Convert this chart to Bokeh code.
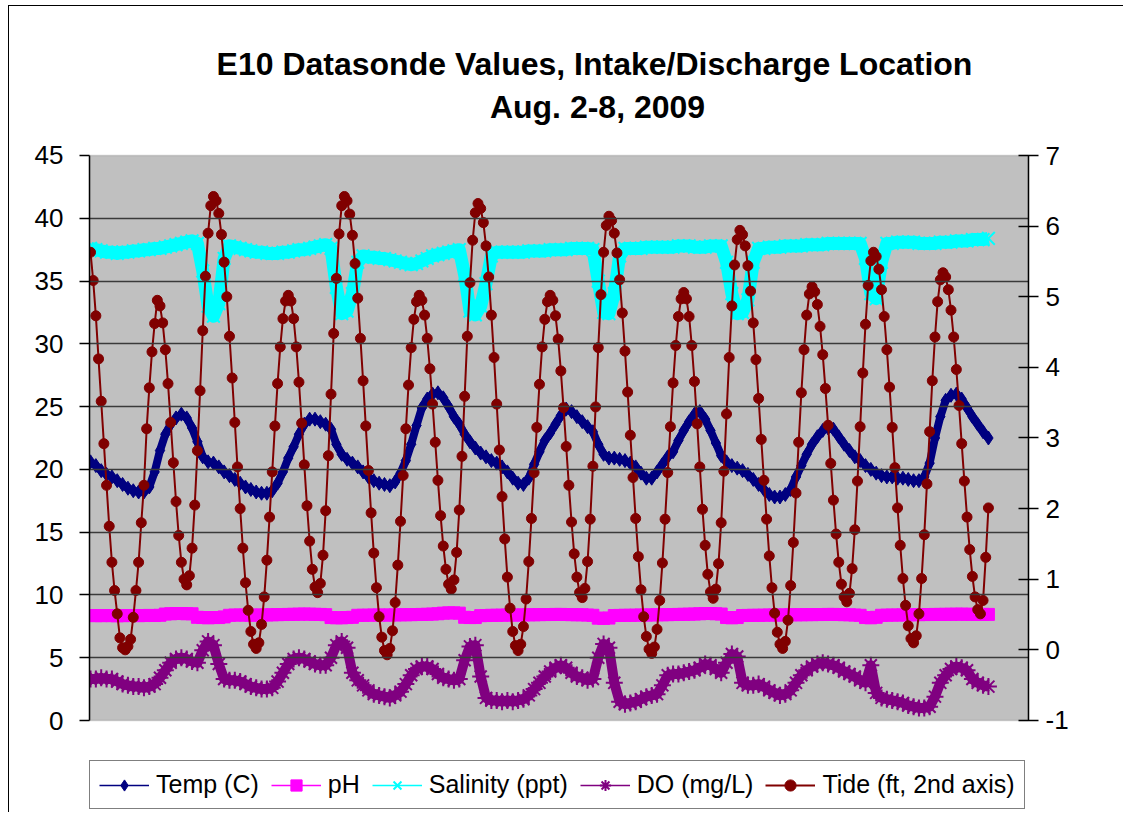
from bokeh.plotting import figure
from bokeh.models import Range1d, LinearAxis, FixedTicker, Legend, LegendItem, Label, BoxAnnotation
from bokeh.embed import file_html
from bokeh.resources import INLINE

# ---- data (hourly for sonde parameters, half-hourly for tide) ----
temp = [20.6, 20.3, 19.9, 19.6, 19.4, 19.1, 18.8, 18.5, 18.3, 18.2,
        18.2, 18.6, 19.8, 21.5, 22.8, 23.6, 24.1, 24.4, 24.1, 23.3,
        22.2, 21.0, 20.6, 20.5, 20.2, 19.8, 19.5, 19.2, 18.9, 18.6,
        18.4, 18.2, 18.1, 18.1, 18.3, 18.9, 19.8, 20.9, 21.8, 22.8,
        23.6, 24.0, 24.0, 23.8, 23.6, 23.2, 22.0, 21.2, 20.8, 20.5,
        20.2, 19.8, 19.4, 19.1, 18.9, 18.8, 18.7, 19.0, 19.7, 20.7,
        22.0, 23.5, 24.9, 25.6, 26.0, 26.1, 25.7, 25.0, 24.2, 23.6,
        22.8, 22.2, 21.7, 21.3, 21.0, 20.7, 20.5, 20.2, 19.8, 19.3,
        18.9, 18.8, 19.3, 20.4, 21.4, 22.3, 22.9, 23.6, 24.3, 24.8,
        24.6, 24.2, 23.8, 23.4, 23.0, 22.0, 21.2, 20.9, 20.9, 20.8,
        20.7, 20.5, 20.2, 19.7, 19.3, 19.3, 19.8, 20.4, 21.0, 21.4,
        22.3, 23.1, 23.8, 24.4, 24.6, 24.0, 23.1, 22.1, 21.1, 20.6,
        20.3, 20.1, 19.9, 19.6, 19.2, 18.8, 18.4, 18.0, 17.8, 17.8,
        18.0, 18.4, 19.4, 20.3, 21.2, 22.0, 22.6, 23.1, 23.3, 23.2,
        22.6, 22.0, 21.5, 21.0, 20.7, 20.3, 20.0, 19.7, 19.5, 19.4,
        19.4, 19.3, 19.3, 19.2, 19.1, 19.1, 19.4, 20.5, 22.5, 24.2,
        25.5, 25.9, 26.0, 25.6, 24.9, 24.2, 23.6, 23.0, 22.5]

ph = [8.36, 8.35, 8.35, 8.36, 8.35, 8.34, 8.35, 8.36, 8.36, 8.35, 8.36, 8.37, 8.36, 8.38,
      8.48, 8.5, 8.52, 8.52, 8.5, 8.5,
      8.22, 8.2, 8.18, 8.2, 8.2, 8.25,
      8.38, 8.4, 8.4, 8.4, 8.39, 8.4, 8.4, 8.41, 8.42, 8.43, 8.44, 8.45, 8.46, 8.47, 8.48, 8.47, 8.46, 8.45, 8.43,
      8.2, 8.18, 8.18, 8.2, 8.22,
      8.38, 8.38, 8.39, 8.4, 8.4, 8.4, 8.4, 8.41, 8.42, 8.42, 8.43, 8.44, 8.45, 8.46, 8.48, 8.5,
      8.55, 8.57, 8.57, 8.55,
      8.22, 8.2, 8.2,
      8.35, 8.36, 8.38, 8.38, 8.39, 8.4, 8.4, 8.4, 8.41, 8.42, 8.42, 8.43, 8.44, 8.44, 8.45, 8.45, 8.44, 8.43, 8.42, 8.42, 8.4, 8.38,
      8.15, 8.14, 8.16,
      8.36, 8.37, 8.38, 8.38, 8.39, 8.4, 8.4, 8.41, 8.42, 8.42, 8.43, 8.44, 8.45, 8.46, 8.47, 8.48,
      8.5, 8.52, 8.52, 8.5, 8.48,
      8.2, 8.18, 8.2,
      8.36, 8.37, 8.38, 8.38, 8.39, 8.4, 8.4, 8.4, 8.41, 8.42, 8.42, 8.42, 8.43, 8.43, 8.44, 8.44, 8.45, 8.45, 8.44, 8.43, 8.42, 8.4, 8.38,
      8.2, 8.18, 8.22,
      8.38, 8.39, 8.4, 8.4, 8.41, 8.42, 8.42, 8.43, 8.44, 8.44, 8.45,
      8.45, 8.46, 8.46, 8.47, 8.47, 8.46, 8.46, 8.45, 8.45, 8.45]

salinity = [37.6, 37.5, 37.4, 37.3, 37.3,
            37.2, 37.3, 37.3, 37.4, 37.4, 37.5, 37.5, 37.6, 37.6, 37.7, 37.8,
            37.9, 38.0, 38.1, 38.2, 38.0,
            35.8, 33.0, 32.2, 33.2, 36.8,
            37.8, 37.7, 37.6, 37.5, 37.4, 37.3, 37.3, 37.2, 37.2, 37.2, 37.3, 37.3, 37.4, 37.5, 37.5, 37.6, 37.7, 37.8, 37.9,
            37.6, 34.5, 32.4, 32.6, 34.0, 36.5,
            37.0, 36.9, 36.9, 36.8, 36.8, 36.7, 36.6, 36.5, 36.4, 36.3, 36.4, 36.6, 36.8, 37.0, 37.1, 37.2, 37.3, 37.4, 37.5,
            35.5, 32.6, 32.3, 33.0, 34.8, 37.0,
            37.3, 37.3, 37.3, 37.3, 37.3, 37.3, 37.4, 37.4, 37.4, 37.4, 37.5, 37.5, 37.5, 37.5, 37.6, 37.6, 37.6, 37.6, 37.5,
            35.0, 32.5, 32.4, 34.0, 37.0,
            37.6, 37.6, 37.6, 37.6, 37.7, 37.7, 37.7, 37.7, 37.7, 37.7, 37.8, 37.8, 37.8, 37.7, 37.7, 37.7, 37.8, 37.8, 37.8,
            36.5, 34.0, 32.4, 32.5, 33.5, 36.5,
            37.6, 37.6, 37.7, 37.7, 37.7, 37.8, 37.8, 37.8, 37.8, 37.9, 37.9, 37.9, 37.9, 38.0, 38.0, 38.0, 38.0, 38.0, 38.0, 38.0,
            36.8, 34.0, 33.6, 36.5,
            38.0, 38.0, 38.1, 38.1, 38.1, 38.1, 38.0, 38.0, 38.0, 38.0, 38.1, 38.1, 38.1, 38.2, 38.2, 38.2, 38.3, 38.3, 38.3, 38.4]

do_mgl = [3.3, 3.3, 3.4, 3.3, 3.3, 3.1, 2.9, 2.8, 2.7, 2.7,
          2.6, 2.7, 2.9, 3.4, 4.0, 4.6, 4.9, 5.0, 4.9, 4.7,
          4.6, 5.6, 6.3, 6.0, 4.5, 3.3, 3.2, 3.2, 3.1, 2.9,
          2.7, 2.6, 2.5, 2.5, 2.6, 3.1, 3.8, 4.5, 4.9, 5.0,
          4.9, 4.7, 4.5, 4.4, 4.4, 5.0, 6.0, 6.3, 5.8, 3.8,
          3.2, 2.8, 2.4, 2.1, 2.0, 1.9, 1.8, 2.0, 2.3, 2.9,
          3.6, 4.1, 4.3, 4.3, 4.1, 3.7, 3.4, 3.3, 3.2, 3.3,
          4.8, 5.9, 6.0, 3.5, 1.8, 1.6, 1.6, 1.5, 1.6, 1.5,
          1.6, 1.7, 2.0, 2.5, 3.0, 3.5, 3.9, 4.2, 4.4, 4.2,
          3.8, 3.5, 3.4, 3.2, 3.3, 5.0, 6.1, 5.8, 3.0, 1.5,
          1.3, 1.4, 1.5, 1.7, 1.9, 2.0, 2.1, 2.8, 3.6, 3.7,
          3.7, 3.8, 3.9, 4.0, 4.2, 4.5, 4.4, 4.1, 3.8, 4.6,
          5.3, 5.1, 3.0, 2.8, 2.8, 2.9, 2.7, 2.4, 2.2, 2.0,
          2.1, 2.4, 3.0, 3.6, 4.0, 4.3, 4.5, 4.6, 4.5, 4.4,
          4.2, 3.9, 3.7, 3.5, 3.2, 3.0, 4.4, 2.2, 1.8, 1.7,
          1.6, 1.5, 1.4, 1.2, 1.1, 1.0, 1.0, 1.1, 1.9, 3.0,
          3.6, 4.1, 4.3, 4.2, 4.0, 3.3, 3.0, 2.8, 2.7]

tide = [5.63, 5.23, 4.73, 4.12, 3.52, 2.92, 2.33, 1.75, 1.24, 0.84, 0.51, 0.17, 0.03, 0.00,
        0.05, 0.15, 0.46, 0.84, 1.24, 1.80, 2.33, 3.13, 3.71, 4.22, 4.62, 4.95,
        4.87, 4.63, 4.25, 3.77, 3.22, 2.65, 2.10, 1.62, 1.24, 1.00, 0.92,
        1.05, 1.44, 2.05, 2.82, 3.67, 4.52, 5.29, 5.90, 6.29, 6.42,
        6.36, 6.18, 5.88, 5.49, 5.00, 4.44, 3.85, 3.22, 2.59, 2.00, 1.44, 0.95, 0.56, 0.26, 0.08, 0.02,
        0.10, 0.36, 0.75, 1.27, 1.88, 2.52, 3.17, 3.77, 4.29, 4.69, 4.94, 5.02,
        4.94, 4.69, 4.29, 3.79, 3.21, 2.62, 2.04, 1.54, 1.14, 0.89, 0.81,
        0.94, 1.34, 1.97, 2.75, 3.62, 4.48, 5.26, 5.89, 6.29, 6.42,
        6.36, 6.17, 5.87, 5.47, 4.98, 4.41, 3.81, 3.17, 2.54, 1.94, 1.37, 0.88, 0.47, 0.18, -0.01, -0.07,
        0.02, 0.27, 0.67, 1.20, 1.82, 2.47, 3.13, 3.75, 4.28, 4.68, 4.93, 5.02,
        4.95, 4.74, 4.41, 3.98, 3.48, 2.94, 2.40, 1.90, 1.47, 1.14, 0.93, 0.86,
        0.99, 1.38, 1.98, 2.74, 3.59, 4.44, 5.20, 5.80, 6.19, 6.32,
        6.25, 6.05, 5.72, 5.28, 4.74, 4.14, 3.48, 2.83, 2.17, 1.57, 1.03, 0.59, 0.26, 0.06, -0.01,
        0.08, 0.33, 0.72, 1.25, 1.86, 2.51, 3.15, 3.76, 4.29, 4.68, 4.93, 5.02,
        4.95, 4.73, 4.40, 3.95, 3.43, 2.88, 2.33, 1.81, 1.36, 1.03, 0.81, 0.74,
        0.87, 1.25, 1.85, 2.60, 3.44, 4.28, 5.03, 5.63, 6.01, 6.14,
        6.08, 5.90, 5.62, 5.24, 4.77, 4.23, 3.65, 3.04, 2.44, 1.86, 1.32, 0.85, 0.47, 0.19, 0.01, -0.05,
        0.04, 0.29, 0.70, 1.23, 1.85, 2.51, 3.16, 3.78, 4.31, 4.72, 4.97, 5.06,
        4.97, 4.72, 4.31, 3.80, 3.20, 2.59, 1.99, 1.48, 1.07, 0.82, 0.73,
        0.86, 1.22, 1.80, 2.53, 3.34, 4.14, 4.87, 5.45, 5.81, 5.94,
        5.88, 5.72, 5.44, 5.08, 4.63, 4.11, 3.56, 2.98, 2.40, 1.85, 1.33, 0.88, 0.52, 0.25, 0.08, 0.02,
        0.12, 0.42, 0.91, 1.52, 2.22, 2.94, 3.64, 4.25, 4.74, 5.04, 5.14,
        5.07, 4.89, 4.58, 4.18, 3.70, 3.18, 2.64, 2.12, 1.64, 1.24, 0.93, 0.75, 0.68,
        0.80, 1.15, 1.70, 2.39, 3.16, 3.92, 4.61, 5.16, 5.51, 5.63,
        5.57, 5.39, 5.10, 4.72, 4.25, 3.72, 3.15, 2.58, 2.01, 1.48, 1.01, 0.63, 0.34, 0.16, 0.10,
        0.20, 0.51, 1.01, 1.63, 2.35, 3.09, 3.81, 4.43, 4.93, 5.24, 5.34,
        5.28, 5.10, 4.81, 4.43, 3.97, 3.46, 2.92, 2.39, 1.88, 1.42, 1.04, 0.75, 0.57, 0.51,
        0.70, 1.31, 2.01]

left_ticks = [0, 5, 10, 15, 20, 25, 30, 35, 40, 45]
right_ticks = [-1, 0, 1, 2, 3, 4, 5, 6, 7]
grid_ticks = [5, 10, 15, 20, 25, 30, 35, 40]
title_line1 = "E10 Datasonde Values, Intake/Discharge Location"
title_line2 = "Aug. 2-8, 2009"


def hrs(s):
    return [float(i) for i in range(len(s))]


tide_hours = [i * 0.5 for i in range(len(tide))]

FONT = "Liberation Sans"

# frame covers the whole canvas height; axis lines limited with bounds
p = figure(frame_width=939, frame_height=806, output_backend="svg", toolbar_location=None,
           x_range=Range1d(-0.19, 175.5), y_range=Range1d(-7.327, 56.867),
           x_axis_type=None,
           min_border_left=80, min_border_right=95, min_border_top=0, min_border_bottom=0,
           background_fill_color="white", border_fill_color="white",
           outline_line_color=None)
p.styles = {"margin-left": "8px", "margin-top": "5px",
            "border-left": "1px solid black", "border-top": "1px solid black"}

p.extra_y_ranges = {"tide": Range1d(-2.303, 9.110)}

# plot-area background
plot_area = BoxAnnotation(bottom=0, top=45, fill_color="#C0C0C0", fill_alpha=1.0,
                          line_color="#808080", line_width=1.5, level="underlay")
p.add_layout(plot_area)

la = p.left[0]
la.ticker = FixedTicker(ticks=left_ticks)
la.bounds = (0, 45)
ra = LinearAxis(y_range_name="tide", ticker=FixedTicker(ticks=right_ticks), bounds=(-1, 7))
ra.major_label_overrides = {-1: "-1"}
p.add_layout(ra, "right")
for ax, tin, sto in ((la, 0, 16), (ra, 10, 7)):
    ax.major_tick_out = 10
    ax.major_tick_in = tin
    ax.minor_tick_out = 0
    ax.minor_tick_in = 0
    ax.axis_line_color = "black"
    ax.axis_line_width = 1.5
    ax.major_tick_line_color = "black"
    ax.major_tick_line_width = 1.5
    ax.major_label_text_font = FONT
    ax.major_label_text_font_size = "26px"
    ax.major_label_text_color = "black"
    ax.major_label_standoff = sto

p.ygrid.ticker = FixedTicker(ticks=grid_ticks)
p.ygrid.grid_line_color = "#3a3a3a"
p.ygrid.grid_line_width = 1.5
p.ygrid.level = "glyph"

NAVY, MAG, CYAN, PURP, MAROON = "#000080", "#FF00FF", "#00FFFF", "#800080", "#800000"

# Temp
p.line(hrs(temp), temp, line_color=NAVY, line_width=8, line_join="round")
t_l = p.line(hrs(temp), temp, line_color=NAVY, line_width=1.5)
t_m = p.scatter(hrs(temp), temp, marker="diamond", size=14, fill_color=NAVY, line_color=NAVY)
# pH
p.line(hrs(ph), ph, line_color=MAG, line_width=10, line_join="round")
p_l = p.line(hrs(ph), ph, line_color=MAG, line_width=1.5)
p_m = p.scatter(hrs(ph), ph, marker="square", size=12, fill_color=MAG, line_color=MAG)
# Salinity
p.line(hrs(salinity), salinity, line_color=CYAN, line_width=13, line_join="round")
s_l = p.line(hrs(salinity), salinity, line_color=CYAN, line_width=1.5)
s_m = p.scatter(hrs(salinity), salinity, marker="x", size=18, line_color=CYAN, line_width=2)
# DO
p.line(hrs(do_mgl), do_mgl, line_color=PURP, line_width=10, line_join="round")
d_l = p.line(hrs(do_mgl), do_mgl, line_color=PURP, line_width=1.5)
d_m = p.scatter(hrs(do_mgl), do_mgl, marker="asterisk", size=17, line_color=PURP, line_width=2)
# Tide (2nd axis)
w_l = p.line(tide_hours, tide, line_color=MAROON, line_width=2, y_range_name="tide")
w_m = p.scatter(tide_hours, tide, marker="circle", size=10, fill_color=MAROON, line_color=MAROON,
                y_range_name="tide")

legend = Legend(items=[
    LegendItem(label="Temp (C)", renderers=[t_l, t_m]),
    LegendItem(label="pH", renderers=[p_l, p_m]),
    LegendItem(label="Salinity (ppt)", renderers=[s_l, s_m]),
    LegendItem(label="DO (mg/L)", renderers=[d_l, d_m]),
    LegendItem(label="Tide (ft, 2nd axis)", renderers=[w_l, w_m]),
], orientation="horizontal", location=(0, 3))
legend.label_text_font = FONT
legend.label_text_font_size = "25px"
legend.label_text_color = "black"
legend.glyph_width = 50
legend.glyph_height = 28
legend.label_standoff = 7
legend.spacing = 12
legend.padding = 9
legend.margin = 0
legend.border_line_color = "black"
legend.border_line_width = 1
legend.background_fill_color = "white"
legend.background_fill_alpha = 1.0
p.add_layout(legend)

# titles (x in screen px from plot-area left, y in left-axis units)
for txt, xx, yy in ((title_line1, 505, 52.25), (title_line2, 508, 48.9)):
    p.add_layout(Label(x=xx, y=yy, x_units="screen", text=txt,
                       text_align="center", text_baseline="middle", text_font=FONT,
                       text_font_style="bold", text_font_size="32px", text_color="black"))

open("out.html", "w").write(file_html(p, INLINE))
